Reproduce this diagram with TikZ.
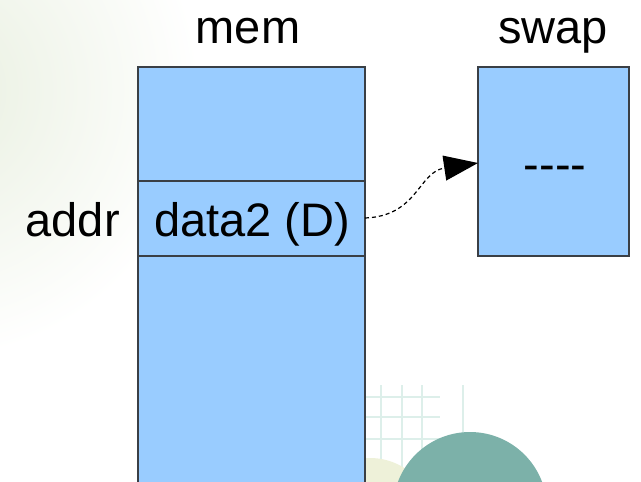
\documentclass[tikz,border=0pt]{standalone}
\usepackage{fontspec}
\setmainfont{Liberation Sans}
\usetikzlibrary{arrows.meta}

\definecolor{cellblue}{HTML}{99CCFF}
\definecolor{celledge}{HTML}{3A3F45}
\definecolor{bggreen}{HTML}{E8EFDF}
\definecolor{gridline}{HTML}{DDEFEA}
\definecolor{paleleaf}{HTML}{EEF1D9}
\definecolor{discteal}{HTML}{7CB1A9}

\tikzset{
  cell/.style={draw=celledge, fill=cellblue, line width=1.2pt,
    anchor=north west, inner sep=0pt, outer sep=0pt},
  lbl/.style={font=\fontsize{47}{56}\selectfont, inner sep=0pt},
  swaplink/.style={dash pattern=on 4pt off 3pt, line width=1.2pt,
    -{Triangle[length=34pt,width=25pt]}},
}

\begin{document}
\begin{tikzpicture}[x=1pt,y=-1pt]
  \useasboundingbox (0,0) rectangle (641,482);
  \clip (0,0) rectangle (641,482);

  % soft backdrop
  \shade[inner color=bggreen, outer color=white] (-70,90) circle (270);
  \foreach \gx in {381,402,422,463}
    \draw[gridline, line width=1.4pt] (\gx,385) -- (\gx,482);
  \foreach \gy in {397,417,439,478}
    \draw[gridline, line width=1.4pt] (340,\gy) -- (440,\gy);
  \fill[paleleaf] (370,522) circle (64);
  \fill[discteal] (470,509) circle (77);

  % memory column
  \node[cell, minimum width=227pt, minimum height=114pt] (memtop) at (138,67) {};
  \node[cell, minimum width=227pt, minimum height=75pt] (memrow) at (138,181) {};
  \node[cell, minimum width=227pt, minimum height=240pt] (memrest) at (138,256) {};
  \node[lbl, anchor=base] (rowtext) at (252,236) {data2 (D)};

  % swap area
  \node[cell, minimum width=151pt, minimum height=189pt] (swapbox) at (478,67) {};
  \node[lbl, anchor=base] (swaptext) at (555,180) {-{}-{}-{}-};

  % titles
  \node[lbl, anchor=base] (memtitle) at (248,43) {mem};
  \node[lbl, anchor=base] (swaptitle) at (553,43) {swap};
  \node[lbl, anchor=base east] (addr) at (120,236) {addr};

  % page-out link
  \coordinate (tip) at (478,163);
  \draw[swaplink] (memrow.east |- 0,218) .. controls (418,216) and (418,172) .. (tip);
\end{tikzpicture}
\end{document}
